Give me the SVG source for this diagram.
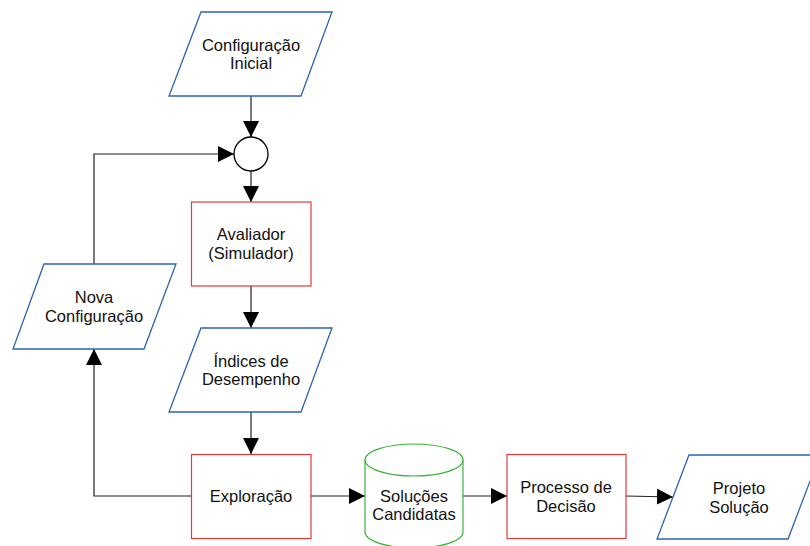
<svg xmlns="http://www.w3.org/2000/svg" width="810" height="546" viewBox="0 0 810 546">
  <defs>
    <marker id="arrow" viewBox="0 0 10 10" refX="10" refY="5" markerWidth="16" markerHeight="16" markerUnits="userSpaceOnUse" orient="auto">
      <path d="M0,0 L10,5 L0,10 Z" fill="#000"/>
    </marker>
    <style>
      .io { fill: #fff; stroke: #2d63b3; stroke-width: 1.3; }
      .proc { fill: #fff; stroke: #e03a3c; stroke-width: 1.2; }
      .store { fill: #fff; stroke: #3cb43c; stroke-width: 1.2; }
      .junction { fill: #fff; stroke: #000; stroke-width: 1.3; }
      .edge { fill: none; stroke: #222; stroke-width: 1.2; }
      text { font-family: "Liberation Sans", Arial, sans-serif; font-size: 16.5px; fill: #111; text-anchor: middle; }
    </style>
  </defs>

  <rect width="810" height="546" fill="#fff"/>

  <g id="connectors">
    <path class="edge" d="M251,96 V137" marker-end="url(#arrow)"/>
    <path class="edge" d="M94,264 V154 H234" marker-end="url(#arrow)"/>
    <path class="edge" d="M251,171 V202" marker-end="url(#arrow)"/>
    <path class="edge" d="M251,286 V328" marker-end="url(#arrow)"/>
    <path class="edge" d="M251,412 V454" marker-end="url(#arrow)"/>
    <path class="edge" d="M191,496 H94 V349" marker-end="url(#arrow)"/>
    <path class="edge" d="M311,496 H365" marker-end="url(#arrow)"/>
    <path class="edge" d="M463,496 H507" marker-end="url(#arrow)"/>
    <path class="edge" d="M626,496 L673,497" marker-end="url(#arrow)"/>
  </g>

  <g id="config-inicial">
    <polygon class="io" points="201,12 332,12 301,96 169,96"/>
    <text x="251" y="51">Configuração</text>
    <text x="251" y="69">Inicial</text>
  </g>

  <g id="juncao">
    <circle class="junction" cx="251" cy="154" r="17"/>
  </g>

  <g id="avaliador">
    <rect class="proc" x="191.5" y="202" width="119.5" height="84"/>
    <text x="251" y="240">Avaliador</text>
    <text x="251" y="259">(Simulador)</text>
  </g>

  <g id="indices">
    <polygon class="io" points="201,328 332,328 301,412 169,412"/>
    <text x="251" y="367">Índices de</text>
    <text x="251" y="385">Desempenho</text>
  </g>

  <g id="nova-config">
    <polygon class="io" points="44,264 176,264 144,349 13,349"/>
    <text x="94" y="303">Nova</text>
    <text x="94" y="322">Configuração</text>
  </g>

  <g id="exploracao">
    <rect class="proc" x="191.5" y="454.5" width="119.5" height="84"/>
    <text x="251" y="502">Exploração</text>
  </g>

  <g id="solucoes">
    <path class="store" d="M365,460 A49,16 0 0 1 463,460 V532 A49,16 0 0 1 365,532 Z"/>
    <path class="store" d="M365,460 A49,16 0 0 0 463,460"/>
    <text x="414" y="502">Soluções</text>
    <text x="414" y="520">Candidatas</text>
  </g>

  <g id="processo-decisao">
    <rect class="proc" x="507" y="454.5" width="119" height="84"/>
    <text x="566" y="493">Processo de</text>
    <text x="566" y="512">Decisão</text>
  </g>

  <g id="projeto-solucao">
    <polygon class="io" points="689,455 820,455 788,539 657,539"/>
    <text x="739" y="494">Projeto</text>
    <text x="739" y="513">Solução</text>
  </g>
</svg>
